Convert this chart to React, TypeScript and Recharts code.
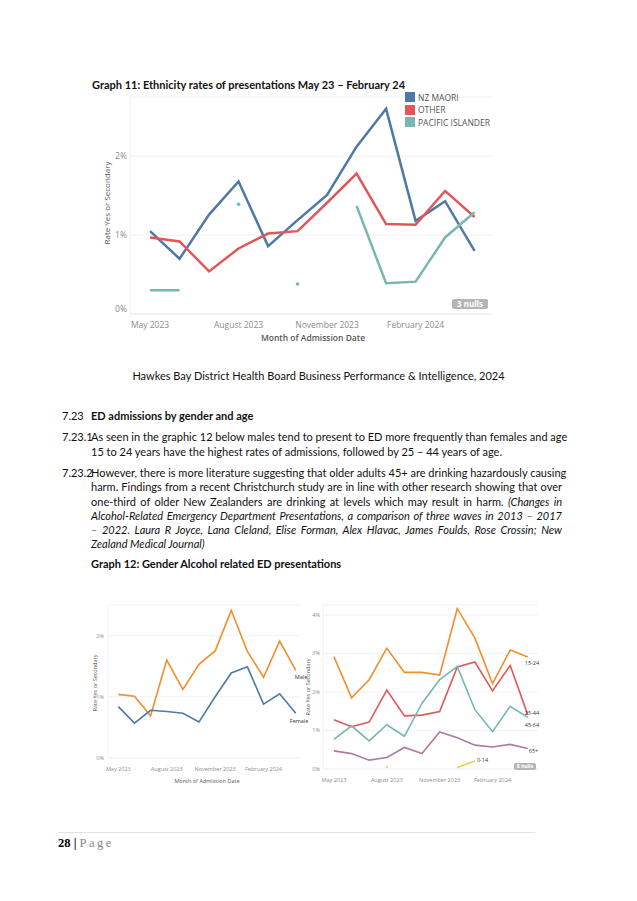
import { LineChart, Line, XAxis, YAxis, CartesianGrid } from 'recharts';

// Month index 0..11 = May 2023 .. April 2024
const MONTHS = ['May 2023', 'Jun 2023', 'Jul 2023', 'Aug 2023', 'Sep 2023', 'Oct 2023', 'Nov 2023', 'Dec 2023', 'Jan 2024', 'Feb 2024', 'Mar 2024', 'Apr 2024'];
const X_TICK_IDX = [0, 3, 6, 9];
const X_TICK_LABELS = ['May 2023', 'August 2023', 'November 2023', 'February 2024'];

// Graph 11 – ethnicity (rate, %)
const NZ_MAORI = [1.05, 0.7, 1.26, 1.68, 0.86, 1.19, 1.51, 2.12, 2.6, 1.18, 1.43, 0.8];
const OTHER = [0.97, 0.92, 0.54, 0.83, 1.02, 1.05, 1.41, 1.78, 1.14, 1.13, 1.56, 1.23];
const PACIFIC = [0.3, 0.3, null, 1.39, null, 0.38, null, 1.37, 0.39, 0.41, 0.97, 1.29];

// Graph 12 – gender
const MALE = [1.04, 1.01, 0.69, 1.6, 1.12, 1.53, 1.75, 2.41, 1.74, 1.32, 1.91, 1.43];
const FEMALE = [0.84, 0.57, 0.78, 0.76, 0.73, 0.59, 1.0, 1.39, 1.49, 0.88, 1.05, 0.73];

// Graph 12 – age groups
const AGE_15_24 = [2.92, 1.85, 2.32, 3.14, 2.51, 2.51, 2.44, 4.17, 3.4, 2.22, 3.09, 2.91];
const AGE_25_44 = [1.28, 1.1, 1.22, 2.05, 1.38, 1.4, 1.49, 2.65, 2.78, 2.03, 2.69, 1.41];
const AGE_45_64 = [0.77, 1.12, 0.73, 1.15, 0.85, 1.71, 2.32, 2.66, 1.54, 0.97, 1.63, 1.34];
const AGE_65_PLUS = [0.47, 0.4, 0.23, 0.3, 0.56, 0.4, 0.96, 0.81, 0.62, 0.57, 0.64, 0.53];
const AGE_0_14 = [null, null, null, 0.05, null, null, null, 0.04, 0.21, null, null, null];

const BLUE = '#4e79a7';
const RED = '#e15759';
const TEAL = '#76b7b2';
const ORANGE = '#f28e2b';
const PURPLE = '#b07aa1';
const YELLOW = '#edc948';

const TAB_FONT = '"Open Sans", "Noto Sans", sans-serif';
const DOC_FONT = 'Lato, "Noto Sans", sans-serif';

const ethnicData = MONTHS.map((m, i) => ({ i, month: m, maori: NZ_MAORI[i], other: OTHER[i], pacific: PACIFIC[i] }));
const genderData = MONTHS.map((m, i) => ({ i, month: m, male: MALE[i], female: FEMALE[i] }));
const ageData = MONTHS.map((m, i) => ({
  i, month: m, a1524: AGE_15_24[i], a2544: AGE_25_44[i], a4564: AGE_45_64[i], a65: AGE_65_PLUS[i], a014: AGE_0_14[i],
}));

// Tableau style: draw a dot only where a point has no neighbours to connect to.
function isolatedDot(series: (number | null)[], color: string, r: number) {
  return (props: any) => {
    const { cx, cy, index } = props;
    const v = series[index];
    const prev = index > 0 ? series[index - 1] : null;
    const next = index < series.length - 1 ? series[index + 1] : null;
    if (v == null || cx == null || cy == null || prev != null || next != null) return <g key={`d${index}`} />;
    return <circle key={`d${index}`} cx={cx} cy={cy} r={r} fill={color} />;
  };
}

// Label at the end of a series (Tableau line-end label)
function endLabel(text: string, at: number, dx: number, dy: number, size: number) {
  return (props: any) => {
    const { x, y, index } = props;
    if (index !== at) return <g key={`l${index}`} />;
    return (
      <text key={`l${index}`} x={x + dx} y={y + dy} fontSize={size} fill="#333" fontFamily={TAB_FONT}>
        {text}
      </text>
    );
  };
}

const pct = (v: number) => `${v}%`;
const monthTick = (v: number) => X_TICK_LABELS[X_TICK_IDX.indexOf(v)] ?? '';

// y tick for graph 11: the 0% label sits a little above the baseline
function liftedZeroTick(props: any) {
  const { x, y, payload } = props;
  const dy = payload.value === 0 ? -5 : 0;
  return (
    <text x={x} y={y + dy} dy={3} textAnchor="end" fontSize={8.5} fill="#8c8c8c" fontFamily={TAB_FONT}>
      {pct(payload.value)}
    </text>
  );
}

function Txt({ x, y, size = 11, children, style }: any) {
  return (
    <div style={{ position: 'absolute', left: x, top: y - 8, lineHeight: '16px', fontSize: size, fontFamily: DOC_FONT, color: '#111', whiteSpace: 'nowrap', ...style }}>
      {children}
    </div>
  );
}

function JLine({ y, children, justify = true }: any) {
  return (
    <div
      style={{
        position: 'absolute', left: 91, width: 471, top: y - 8, lineHeight: '16px', fontSize: 11, fontFamily: DOC_FONT, color: '#111',
        textAlign: justify ? 'justify' : 'left', textAlignLast: justify ? 'justify' : 'left', whiteSpace: 'nowrap',
      }}
    >
      {children}
    </div>
  );
}

function RotLabel({ x, y, size, text }: any) {
  return (
    <div
      style={{
        position: 'absolute', left: x - 100, top: y - 6, width: 200, lineHeight: '12px', textAlign: 'center',
        fontSize: size, fontFamily: TAB_FONT, color: '#555', transform: 'rotate(-90deg)', whiteSpace: 'nowrap',
      }}
    >
      {text}
    </div>
  );
}

function Badge({ x, y, w, h, size, text }: any) {
  return (
    <div
      style={{
        position: 'absolute', left: x, top: y, width: w, height: h, lineHeight: `${h}px`, background: '#b5b5b5', borderRadius: 2,
        color: '#fff', fontWeight: 700, fontSize: size, fontFamily: TAB_FONT, textAlign: 'center',
      }}
    >
      {text}
    </div>
  );
}

function LegendRow({ y, color, text }: any) {
  return (
    <div style={{ position: 'absolute', left: 405, top: y - 5, height: 10, display: 'flex', alignItems: 'center' }}>
      <div style={{ width: 10, height: 10, background: color }} />
      <span style={{ marginLeft: 3, fontSize: 8.5, fontFamily: TAB_FONT, color: '#555' }}>{text}</span>
    </div>
  );
}

export default function App() {
  return (
    <div style={{ position: 'absolute', left: 0, top: 0, width: 637, height: 901, background: '#fff', overflow: 'hidden' }}>
      {/* Graph 11 */}
      <Txt x={92} y={85} style={{ fontWeight: 700 }}>Graph 11: Ethnicity rates of presentations May 23 – February 24</Txt>

      <div style={{ position: 'absolute', left: 80, top: 90 }}>
        <LineChart width={420} height={260} data={ethnicData} margin={{ top: 7, right: 8, bottom: 16, left: 20 }}>
          <CartesianGrid horizontal vertical={false} stroke="#efefef" />
          <XAxis
            dataKey="i" type="number" domain={[-0.68, 11.59]} ticks={X_TICK_IDX} tickFormatter={monthTick}
            height={20} axisLine={{ stroke: '#f0f0f0' }} tickLine={false}
            tick={{ fontSize: 8.5, fill: '#8c8c8c', fontFamily: TAB_FONT }} allowDataOverflow
          />
          <YAxis
            type="number" domain={[0, 2.75]} ticks={[0, 1, 2]} width={30} tickSize={0} tickMargin={3}
            axisLine={{ stroke: '#f0f0f0' }} tickLine={false} tick={liftedZeroTick} allowDataOverflow
          />
          <Line type="linear" dataKey="maori" stroke={BLUE} strokeWidth={2.5} dot={false} isAnimationActive={false} />
          <Line type="linear" dataKey="other" stroke={RED} strokeWidth={2.5} dot={false} isAnimationActive={false} />
          <Line type="linear" dataKey="pacific" stroke={TEAL} strokeWidth={2.5} dot={isolatedDot(PACIFIC, TEAL, 1.8)} isAnimationActive={false} />
        </LineChart>
      </div>
      <RotLabel x={107} y={203} size={8} text="Rate Yes or Secondary" />
      <div style={{ position: 'absolute', left: 213, width: 200, top: 332, textAlign: 'center', fontSize: 8.5, fontFamily: TAB_FONT, color: '#555', fontWeight: 600 }}>
        Month of Admission Date
      </div>
      <LegendRow y={97} color={BLUE} text="NZ MAORI" />
      <LegendRow y={109.5} color={RED} text="OTHER" />
      <LegendRow y={122} color={TEAL} text="PACIFIC ISLANDER" />
      <Badge x={452} y={299} w={36} h={10} size={8} text="3 nulls" />

      {/* Text */}
      <div style={{ position: 'absolute', left: 0, width: 637, top: 368, lineHeight: '16px', textAlign: 'center', fontSize: 11, fontFamily: DOC_FONT, color: '#111' }}>
        Hawkes Bay District Health Board Business Performance &amp; Intelligence, 2024
      </div>
      <Txt x={62} y={416}>7.23</Txt>
      <Txt x={91} y={416} style={{ fontWeight: 700 }}>ED admissions by gender and age</Txt>

      <Txt x={62} y={437}>7.23.1</Txt>
      <JLine y={437}>As seen in the graphic 12 below males tend to present to ED more frequently than females and age</JLine>
      <JLine y={452} justify={false}>15 to 24 years have the highest rates of admissions, followed by 25 – 44 years of age.</JLine>

      <Txt x={62} y={473}>7.23.2</Txt>
      <JLine y={473}>However, there is more literature suggesting that older adults 45+ are drinking hazardously causing</JLine>
      <JLine y={487}>harm. Findings from a recent Christchurch study are in line with other research showing that over</JLine>
      <JLine y={502}>one-third of older New Zealanders are drinking at levels which may result in harm. <i>(Changes in</i></JLine>
      <JLine y={516}><i>Alcohol-Related Emergency Department Presentations, a comparison of three waves in 2013 – 2017</i></JLine>
      <JLine y={530}><i>– 2022. Laura R Joyce, Lana Cleland, Elise Forman, Alex Hlavac, James Foulds, Rose Crossin; New</i></JLine>
      <JLine y={544} justify={false}><i>Zealand Medical Journal)</i></JLine>

      <Txt x={91} y={564} style={{ fontWeight: 700 }}>Graph 12: Gender Alcohol related ED presentations</Txt>

      {/* Graph 12 – gender */}
      <div style={{ position: 'absolute', left: 80, top: 600 }}>
        <LineChart width={230} height={190} data={genderData} margin={{ top: 5, right: 10, bottom: 18, left: 8 }}>
          <CartesianGrid horizontal vertical={false} stroke="#f2f2f2" />
          <XAxis
            dataKey="i" type="number" domain={[-0.64, 11.26]} ticks={X_TICK_IDX} tickFormatter={monthTick}
            height={14} axisLine={{ stroke: '#f2f2f2' }} tickLine={false} tickMargin={3}
            tick={{ fontSize: 5.5, fill: '#8c8c8c', fontFamily: TAB_FONT }} allowDataOverflow
          />
          <YAxis
            type="number" domain={[0, 2.5]} ticks={[0, 1, 2]} tickFormatter={pct} width={20} tickSize={0} tickMargin={4}
            axisLine={{ stroke: '#f2f2f2' }} tickLine={false} tick={{ fontSize: 5.5, fill: '#8c8c8c', fontFamily: TAB_FONT }} allowDataOverflow
          />
          <Line type="linear" dataKey="male" stroke={ORANGE} strokeWidth={1.6} dot={false} isAnimationActive={false}
            label={endLabel('Male', 11, -1, 9, 5.5)} />
          <Line type="linear" dataKey="female" stroke={BLUE} strokeWidth={1.6} dot={false} isAnimationActive={false}
            label={endLabel('Female', 11, -6, 10, 5.5)} />
        </LineChart>
      </div>
      <RotLabel x={95} y={683} size={5.5} text="Rate Yes or Secondary" />
      <div style={{ position: 'absolute', left: 157, width: 100, top: 777, textAlign: 'center', fontSize: 5.5, fontFamily: TAB_FONT, color: '#555' }}>
        Month of Admission Date
      </div>

      {/* Graph 12 – age */}
      <div style={{ position: 'absolute', left: 300, top: 600 }}>
        <LineChart width={250} height={190} data={ageData} margin={{ top: 5, right: 12, bottom: 7, left: 8 }}>
          <CartesianGrid horizontal vertical={false} stroke="#f2f2f2" />
          <XAxis
            dataKey="i" type="number" domain={[-0.62, 11.58]} ticks={X_TICK_IDX} tickFormatter={monthTick}
            height={14} axisLine={{ stroke: '#f2f2f2' }} tickLine={false} tickMargin={3}
            tick={{ fontSize: 5.5, fill: '#8c8c8c', fontFamily: TAB_FONT }} allowDataOverflow
          />
          <YAxis
            type="number" domain={[0, 4.26]} ticks={[0, 1, 2, 3, 4]} tickFormatter={pct} width={15} tickSize={0} tickMargin={3}
            axisLine={{ stroke: '#f2f2f2' }} tickLine={false} tick={{ fontSize: 5.5, fill: '#8c8c8c', fontFamily: TAB_FONT }} allowDataOverflow
          />
          <Line type="linear" dataKey="a1524" stroke={ORANGE} strokeWidth={1.6} dot={false} isAnimationActive={false}
            label={endLabel('15-24', 11, -3, 8, 5.5)} />
          <Line type="linear" dataKey="a2544" stroke={RED} strokeWidth={1.6} dot={false} isAnimationActive={false}
            label={endLabel('25-44', 11, -3, 0, 5.5)} />
          <Line type="linear" dataKey="a4564" stroke={TEAL} strokeWidth={1.6} dot={false} isAnimationActive={false}
            label={endLabel('45-64', 11, -3, 10, 5.5)} />
          <Line type="linear" dataKey="a65" stroke={PURPLE} strokeWidth={1.6} dot={false} isAnimationActive={false}
            label={endLabel('65+', 11, 1, 4, 5.5)} />
          <Line type="linear" dataKey="a014" stroke={YELLOW} strokeWidth={1.6} dot={isolatedDot(AGE_0_14, YELLOW, 1)} isAnimationActive={false}
            label={endLabel('0-14', 8, 2, 1, 5.5)} />
        </LineChart>
      </div>
      <RotLabel x={308} y={687} size={5.5} text="Rate Yes or Secondary" />
      <Badge x={514} y={763} w={22} h={7} size={5} text="8 nulls" />

      {/* Footer */}
      <div style={{ position: 'absolute', left: 58, width: 477, top: 832, borderTop: '1px solid #e4e4e4' }} />
      <div style={{ position: 'absolute', left: 58, top: 835, lineHeight: '16px', fontSize: 12.5, fontFamily: '"Liberation Serif", serif', whiteSpace: 'nowrap' }}>
        <b>28</b> <b>|</b> <span style={{ color: '#888', letterSpacing: 2.5 }}>Page</span>
      </div>
    </div>
  );
}
